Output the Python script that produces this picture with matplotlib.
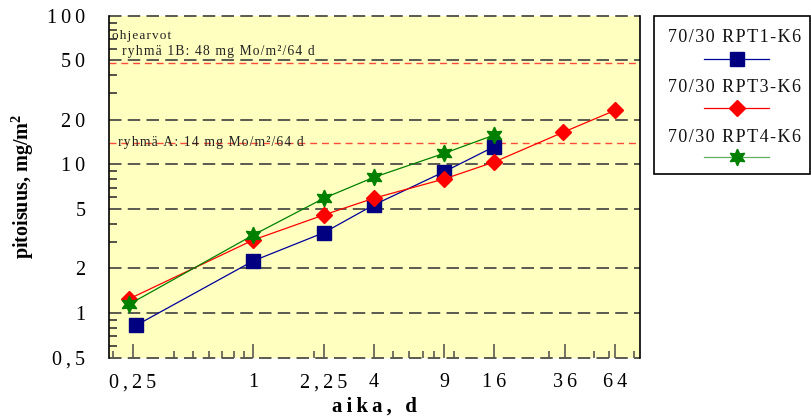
import matplotlib
matplotlib.use("Agg")
import matplotlib.pyplot as plt
from matplotlib.lines import Line2D
from matplotlib.patches import Rectangle
from matplotlib.ticker import FixedLocator, FixedFormatter, NullFormatter

plt.rcParams['font.family'] = ['Liberation Serif', 'DejaVu Serif']
plt.rcParams['lines.scale_dashes'] = False

# leaching test data: time (d) vs cumulative release (mg/m²)
days_rpt1 = [0.26, 1, 2.25, 4, 9, 16]
rpt1 = [0.83, 2.25, 3.48, 5.35, 8.95, 13.2]

days_rpt3 = [0.24, 1, 2.25, 4, 9, 16, 35, 64]
rpt3 = [1.25, 3.11, 4.58, 5.93, 8.0, 10.4, 16.4, 23.1]

days_rpt4 = [0.24, 1, 2.25, 4, 9, 16]
rpt4 = [1.15, 3.36, 5.93, 8.2, 11.9, 15.8]

series_names = ["70/30 RPT1-K6", "70/30 RPT3-K6", "70/30 RPT4-K6"]

# guideline limits
limit_1b = 48
limit_a = 14
limit_title = "ohjearvot"
limit_1b_text = "ryhmä 1B: 48 mg Mo/m²/64 d"
limit_a_text = "ryhmä A: 14 mg Mo/m²/64 d"

x_ticks = [0.25, 1, 2.25, 4, 9, 16, 36, 64]
x_tick_labels = ["0,25", "1", "2,25", "4", "9", "16", "36", "64"]
x_minor = [0.2, 0.4, 0.5, 0.6, 0.7, 0.8, 0.9, 2, 5, 6, 7, 8, 10, 30, 50, 60, 80]
y_ticks = [0.5, 1, 2, 5, 10, 20, 50, 100]
y_tick_labels = ["0,5", "1", "2", "5", "10", "20", "50", "100"]
y_minor = [0.6, 0.7, 0.8, 0.9, 3, 4, 6, 7, 8, 9, 30, 40, 60, 70, 80, 90]


def spaced(s, gap="\u200a"):
    return gap.join(s)


W, H = 811, 420
fig = plt.figure(figsize=(W / 100, H / 100), dpi=100)
ax = fig.add_axes([109 / W, 1 - 358 / H, (640 - 109) / W, (358 - 15.7) / H])
ax.set_facecolor("#FFFFC0")
ax.set_xscale("log")
ax.set_yscale("log")
ax.set_xlim(0.19, 85.3)
ax.set_ylim(0.5, 100)

# dashed horizontal grid (also forms the top and bottom edges)
for yv in y_ticks:
    ax.axhline(yv, color="#5a5a50", lw=1.4, linestyle=(0, (9, 4.5)),
               zorder=1, clip_on=False)

# guideline limits
for yv in (limit_1b, limit_a):
    ax.axhline(yv, color="#ff4a3a", lw=1.0, linestyle=(0, (5, 3.5)), zorder=1)

ax.spines["top"].set_visible(False)
ax.spines["bottom"].set_visible(False)
ax.spines["left"].set_linewidth(1.2)
ax.spines["right"].set_linewidth(1.2)

ax.xaxis.set_major_locator(FixedLocator(x_ticks))
ax.xaxis.set_major_formatter(FixedFormatter([spaced(t, "\u2009") for t in x_tick_labels]))
ax.xaxis.set_minor_locator(FixedLocator(x_minor))
ax.xaxis.set_minor_formatter(NullFormatter())
ax.yaxis.set_major_locator(FixedLocator(y_ticks))
ax.yaxis.set_major_formatter(FixedFormatter([spaced(t, "\u2009") for t in y_tick_labels]))
ax.yaxis.set_minor_locator(FixedLocator(y_minor))
ax.yaxis.set_minor_formatter(NullFormatter())

ax.tick_params(axis="x", which="major", direction="in", length=10, width=1.2,
               color="#5a5a50", labelsize=14.5, pad=11)
ax.tick_params(axis="x", which="minor", direction="in", length=5, width=1.2,
               color="#5a5a50")
ax.tick_params(axis="y", which="major", direction="in", length=0, labelsize=14.5,
               pad=17)
ax.tick_params(axis="y", which="minor", direction="in", length=6, width=1.2,
               color="#333333")

ax.set_ylabel("pitoisuus, mg/m$^\\mathregular{2}$", fontsize=14.5,
              fontweight="bold", labelpad=8)
ax.set_xlabel(spaced("aika, d", "\u2009"), fontsize=15, fontweight="bold", labelpad=3)

# measured series
style = dict(lw=0.9, zorder=3, clip_on=False)
ax.plot(days_rpt1, rpt1, color="#000099", marker="s", ms=10,
        markerfacecolor="#000080", markeredgecolor="#000080", **style)
ax.plot(days_rpt3, rpt3, color="#ff0000", marker="D", ms=8.5,
        markerfacecolor="#ff0000", markeredgecolor="#ff0000", **style)
ax.plot(days_rpt4, rpt4, color="#008000", marker=(6, 1, 0), ms=12,
        markerfacecolor="#008000", markeredgecolor="#008000", **style)

# guideline annotations
tf = ax.get_yaxis_transform()
ax.text(0.006, 1 - (36 - 15.7) / 342.3, spaced(limit_title), transform=ax.transAxes,
        fontsize=9.5, va="center", ha="left", color="#222222")
ax.text(0.024, 1 - (52 - 15.7) / 342.3, spaced(limit_1b_text), transform=ax.transAxes,
        fontsize=9.8, va="center", ha="left", color="#222222")
ax.text(0.017, limit_a, spaced(limit_a_text), transform=tf,
        fontsize=9.8, va="center", ha="left", color="#222222")

# legend box at right
fig.patches.append(Rectangle((654 / W, 1 - 174 / H), (810 - 654) / W, (174 - 15.7) / H,
                             transform=fig.transFigure, facecolor="white",
                             edgecolor="black", lw=1.2))
legend_rows = [
    (series_names[0], "#000099", "s", 10, "#000080"),
    (series_names[1], "#ff0000", "D", 8.5, "#ff0000"),
    (series_names[2], "#60b060", (6, 1, 0), 12, "#008000"),
]
text_y = [37, 87, 137]
line_y = [59, 108, 157]
for (name, lc, mk, ms, mc), ty, ly in zip(legend_rows, text_y, line_y):
    fig.text(735 / W, 1 - ty / H, spaced(name), fontsize=13, ha="center",
             va="center", color="#111111")
    fig.lines.append(Line2D([704 / W, 769 / W], [1 - ly / H, 1 - ly / H],
                            transform=fig.transFigure, color=lc, lw=0.9))
    fig.lines.append(Line2D([736.5 / W], [1 - ly / H], transform=fig.transFigure,
                            marker=mk, ms=ms, markerfacecolor=mc,
                            markeredgecolor=mc, lw=0))

fig.savefig("out.png", dpi=100, facecolor="white")
